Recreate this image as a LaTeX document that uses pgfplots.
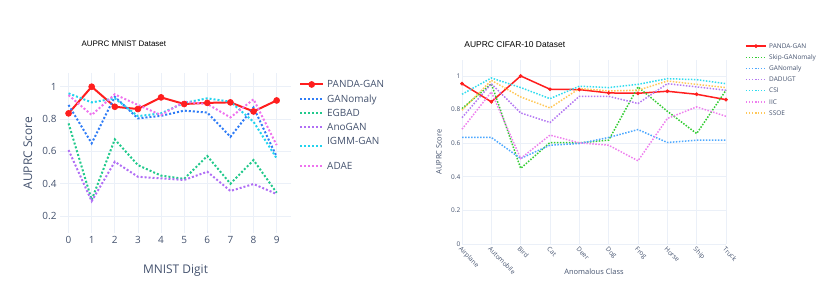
\documentclass[border=0pt]{standalone}
\usepackage{pgfplots}
\pgfplotsset{compat=1.18}
\usepackage{fontspec}
\setmainfont{Open Sans}
\newfontfamily\arialf{Liberation Sans}
\definecolor{tickc}{RGB}{68,82,110}
\definecolor{gridc}{HTML}{EBF0F8}
\definecolor{pandac}{RGB}{255,30,30}
\definecolor{ganomc}{HTML}{2F7CF6}
\definecolor{egbadc}{HTML}{22C98C}
\definecolor{anoganc}{HTML}{B06EF5}
\definecolor{igmmc}{HTML}{22D3EE}
\definecolor{adaec}{HTML}{EE72EE}
\definecolor{skipc}{HTML}{33CC33}
\definecolor{ganom2c}{HTML}{4DA8FF}
\definecolor{dadugtc}{HTML}{B57AF2}
\definecolor{csic}{HTML}{30DCEE}
\definecolor{iicc}{HTML}{EE80EE}
\definecolor{ssoec}{HTML}{FFC85A}
\pgfplotsset{igmmimg/.style={legend image code/.code={\draw[##1] (0bp,0bp) -- (23bp,0bp); \path[draw=none, fill=none] (0bp,-11.4bp) rectangle (0.1bp,10.4bp);}}}
\begin{document}
\begin{tikzpicture}
\useasboundingbox (0,0) rectangle (830bp,296bp);
% ---------------- left: MNIST ----------------
\begin{axis}[
  at={(60bp,63bp)}, anchor=south west,
  scale only axis, width=231bp, height=159.7bp,
  xmin=-0.37, xmax=9.62, ymin=0.095, ymax=1.083,
  xtick={0,...,9},
  ytick={0.2,0.4,0.6,0.8,1}, yticklabels={0.2,0.4,0.6,0.8,1},
  grid=major, major grid style={gridc, line width=0.8bp},
  axis line style={draw=none}, major tick length=0pt,
  ticklabel style={font=\fontsize{10}{12}\selectfont, text=tickc},
  /pgf/number format/assume math mode=true,
  xlabel={MNIST Digit}, ylabel={AUPRC Score},
  label style={font=\fontsize{12}{14}\selectfont, text=tickc},
  xlabel style={at={(axis description cs:0.5,-0.232)}, anchor=center},
  ylabel style={at={(axis description cs:-0.139,0.5)}, anchor=center},
  title={AUPRC MNIST Dataset},
  title style={at={(axis description cs:0.078,1.146)}, anchor=west, font=\arialf\fontsize{8}{10}\selectfont, text=black},
  clip=false,
  legend image code/.code={\draw[mark repeat=2,mark phase=2,#1] plot coordinates {(0bp,0bp) (11.5bp,0bp) (23bp,0bp)};},
  legend style={at={(axis description cs:1.0346,0.9687)}, anchor=north west, draw=none, fill=none,
    inner sep=0pt, font=\fontsize{10}{12}\selectfont, text=tickc, row sep=2.3bp, column sep=3bp,
    nodes={inner sep=0pt, text height=9.5pt, text depth=2.5pt}},
  legend cell align=left,
  every axis plot/.append style={line width=2bp},
]
\addplot[pandac, mark=*, mark size=3bp, mark options={solid, line width=0.6bp}] coordinates {
 (0,0.835) (1,1.0) (2,0.876) (3,0.862) (4,0.934) (5,0.893) (6,0.90) (7,0.903) (8,0.847) (9,0.915)};
\addlegendentry{PANDA-GAN}
\addplot[ganomc, dash pattern=on 2bp off 2bp] coordinates {
 (0,0.887) (1,0.65) (2,0.938) (3,0.804) (4,0.82) (5,0.852) (6,0.84) (7,0.69) (8,0.872) (9,0.567)};
\addlegendentry{GANomaly}
\addplot[egbadc, dash pattern=on 2bp off 2bp] coordinates {
 (0,0.773) (1,0.30) (2,0.674) (3,0.515) (4,0.45) (5,0.43) (6,0.571) (7,0.40) (8,0.546) (9,0.344)};
\addlegendentry{EGBAD}
\addplot[anoganc, dash pattern=on 2bp off 2bp] coordinates {
 (0,0.608) (1,0.292) (2,0.536) (3,0.443) (4,0.433) (5,0.423) (6,0.474) (7,0.355) (8,0.398) (9,0.336)};
\addlegendentry{AnoGAN}
\addplot[igmmc, dash pattern=on 2bp off 2bp, igmmimg] coordinates {
 (0,0.959) (1,0.903) (2,0.928) (3,0.818) (4,0.835) (5,0.90) (6,0.928) (7,0.907) (8,0.783) (9,0.557)};
\addlegendentry[text height=8.7pt, text depth=12.1pt]{IGMM-GAN}
\addplot[adaec, dash pattern=on 2bp off 2bp] coordinates {
 (0,0.948) (1,0.825) (2,0.953) (3,0.887) (4,0.825) (5,0.907) (6,0.893) (7,0.81) (8,0.922) (9,0.639)};
\addlegendentry{ADAE}
\end{axis}
% ---------------- right: CIFAR-10 ----------------
\begin{axis}[
  at={(462bp,52bp)}, anchor=south west,
  scale only axis, width=264bp, height=184bp,
  xmin=0, xmax=9, ymin=0, ymax=1.095,
  xtick={0,...,9},
  xticklabels={Airplane,Automobile,Bird,Cat,Deer,Dog,Frog,Horse,Ship,Truck},
  ytick={0,0.2,0.4,0.6,0.8,1}, yticklabels={0,0.2,0.4,0.6,0.8,1},
  grid=major, major grid style={gridc, line width=0.8bp},
  axis line style={draw=none}, major tick length=0pt,
  ticklabel style={font=\fontsize{6.5}{8}\selectfont, text=tickc},
  xticklabel style={rotate=-45, anchor=north west, inner sep=1.5pt},
  yticklabel style={inner sep=1.5pt},
  xlabel={Anomalous Class}, ylabel={AUPRC Score},
  label style={font=\fontsize{7.5}{9}\selectfont, text=tickc},
  xlabel style={at={(axis description cs:0.5,-0.152)}, anchor=center},
  ylabel style={at={(axis description cs:-0.087,0.5)}, anchor=center},
  title={AUPRC CIFAR-10 Dataset},
  title style={at={(axis description cs:-0.004,1.054)}, anchor=west, font=\arialf\fontsize{8.5}{10}\selectfont, text=black},
  clip=false,
  legend image code/.code={\draw[mark repeat=2,mark phase=2,#1] plot coordinates {(0bp,0bp) (10bp,0bp) (20bp,0bp)};},
  legend style={at={(axis description cs:1.072,1.0992)}, anchor=north west, draw=none, fill=none,
    inner sep=0pt, font=\fontsize{6.5}{8}\selectfont, text=tickc, row sep=2.65bp, column sep=2.5bp,
    nodes={inner sep=0pt, text height=6.5pt, text depth=2pt}},
  legend cell align=left,
  every axis plot/.append style={line width=1.5bp},
]
\addplot[pandac, mark=*, mark size=1.7bp, mark options={solid, line width=0.4bp}] coordinates {
 (0,0.954) (1,0.846) (2,1.0) (3,0.921) (4,0.919) (5,0.899) (6,0.897) (7,0.909) (8,0.891) (9,0.859)};
\addlegendentry{PANDA-GAN}
\addplot[skipc, dash pattern=on 1.5bp off 1.5bp] coordinates {
 (0,0.806) (1,0.954) (2,0.45) (3,0.604) (4,0.602) (5,0.618) (6,0.935) (7,0.79) (8,0.657) (9,0.915)};
\addlegendentry{Skip-GANomaly}
\addplot[ganom2c, dash pattern=on 1.5bp off 1.5bp] coordinates {
 (0,0.634) (1,0.634) (2,0.509) (3,0.588) (4,0.598) (5,0.634) (6,0.681) (7,0.604) (8,0.618) (9,0.618)};
\addlegendentry{GANomaly}
\addplot[dadugtc, dash pattern=on 1.5bp off 1.5bp] coordinates {
 (0,0.752) (1,0.954) (2,0.78) (3,0.723) (4,0.879) (5,0.879) (6,0.836) (7,0.954) (8,0.935) (9,0.915)};
\addlegendentry{DADUGT}
\addplot[csic, dash pattern=on 1.5bp off 1.5bp] coordinates {
 (0,0.891) (1,0.988) (2,0.931) (3,0.865) (4,0.939) (5,0.931) (6,0.95) (7,0.984) (8,0.978) (9,0.954)};
\addlegendentry{CSI}
\addplot[iicc, dash pattern=on 1.5bp off 1.5bp] coordinates {
 (0,0.683) (1,0.905) (2,0.509) (3,0.648) (4,0.602) (5,0.588) (6,0.495) (7,0.747) (8,0.816) (9,0.76)};
\addlegendentry{IIC}
\addplot[ssoec, dash pattern=on 1.5bp off 1.5bp] coordinates {
 (0,0.796) (1,0.974) (2,0.875) (3,0.81) (4,0.925) (5,0.911) (6,0.915) (7,0.97) (8,0.95) (9,0.931)};
\addlegendentry{SSOE}
\end{axis}
\end{tikzpicture}
\end{document}
